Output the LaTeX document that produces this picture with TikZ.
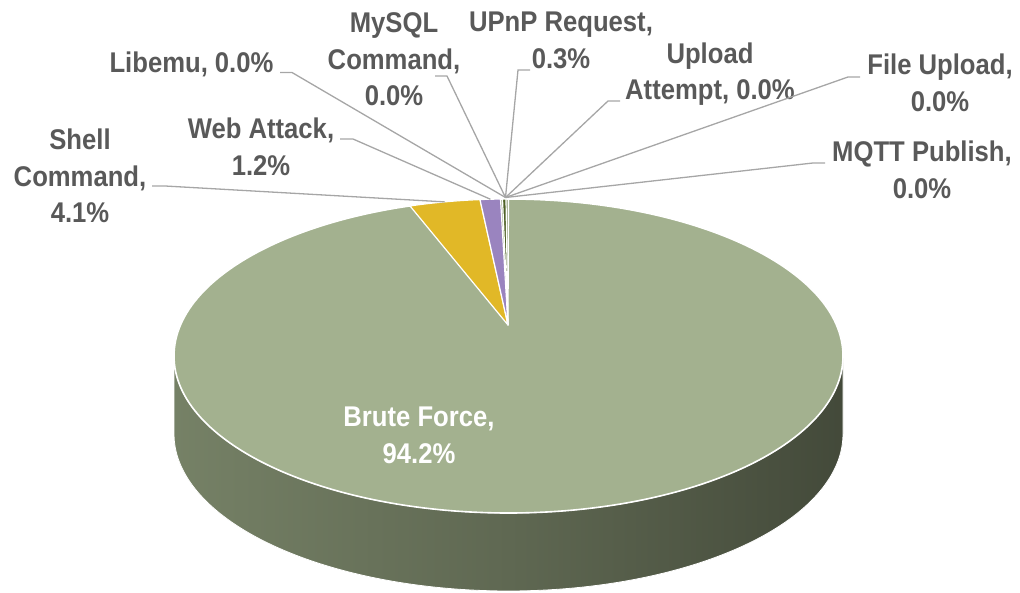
\documentclass[tikz,border=0pt]{standalone}
\usepackage{fontspec}
\setmainfont{Liberation Sans}[FakeStretch=0.9]
\usetikzlibrary{calc}

\definecolor{bfTop}{HTML}{A3B18F}
\definecolor{sideA}{HTML}{8C9A7A}
\definecolor{sideB}{HTML}{5F6852}
\definecolor{sideC}{HTML}{404637}
\definecolor{shellY}{HTML}{E1B827}
\definecolor{webP}{HTML}{9A84BF}
\definecolor{upnpG}{HTML}{4F6228}
\definecolor{labelGray}{HTML}{595959}
\definecolor{leaderGray}{HTML}{A6A6A6}

\pgfdeclarehorizontalshading{pieside}{100bp}{color(0bp)=(sideA); color(50bp)=(sideB); color(78bp)=(sideC); color(100bp)=(sideC)}

\newcommand\stack[1]{\begin{tabular}[t]{@{}c@{}}#1\end{tabular}}

\begin{document}
\begin{tikzpicture}[x=1pt,y=-1pt,
  declare function={rx(\t)=508.5+334.5*cos(\t); ry(\t)=356-157*sin(\t); by(\t)=434-157*sin(\t);},
  lbl/.style={inner sep=0pt, anchor=base, text=labelGray,
              font=\fontsize{28.5}{36.5}\selectfont\bfseries},
  leader/.style={draw=leaderGray, line width=1.3pt},
  slice/.style={draw=white, line width=1.2pt, line join=round}]
\useasboundingbox (0,0) rectangle (1020,593);

% side wall of the pie
\shade[shading=pieside, draw=white, line width=0.8pt]
  (174,356) -- (174,434)
  -- plot[smooth, samples=80, domain=180:360] ({rx(\x)},{by(\x)})
  -- (843,356)
  -- plot[smooth, samples=80, domain=0:-180] ({rx(\x)},{ry(\x)}) -- cycle;

% top face (Brute Force)
\draw[slice, fill=bfTop, line width=1.6pt] (508.5,356) ellipse [x radius=334.5, y radius=157];

% small slices at the back
\coordinate (apex) at (508,325);
\fill[shellY, slice] (apex) -- plot[samples=20, domain=94.89:107.13] ({rx(\x)},{ry(\x)}) -- cycle;
\fill[webP, slice] (apex) -- plot[samples=10, domain=91.37:94.89] ({rx(\x)},{ry(\x)}) -- cycle;
\fill[upnpG, slice] (apex) -- plot[samples=5, domain=90.43:91.03] ({rx(\x)},{ry(\x)}) -- cycle;
\coordinate (top) at ({rx(90)},{ry(90)});
\draw[slice] (apex) -- (top);

% rim points where the leaders end
\coordinate (r-shell) at ({rx(101)},{ry(101)});
\coordinate (r-web) at ({rx(93.1)},{ry(93.1)});
\coordinate (r-back) at (505.5,197.5);

% labels
\node[lbl] (shell) at (80,150) {\stack{Shell\\Command,\\4.1\%}};
\node[lbl] (web) at (261,139) {\stack{Web Attack,\\1.2\%}};
\node[lbl] (libemu) at (191.5,73) {Libemu, 0.0\%};
\node[lbl] (mysql) at (394,33) {\stack{MySQL\\Command,\\0.0\%}};
\node[lbl] (upnp) at (561,32) {\stack{UPnP Request,\\0.3\%}};
\node[lbl] (upload) at (710,63.5) {\stack{Upload\\Attempt, 0.0\%}};
\node[lbl] (file) at (940,75) {\stack{File Upload,\\0.0\%}};
\node[lbl] (mqtt) at (922,162) {\stack{MQTT Publish,\\0.0\%}};
\node[lbl, text=white] (brute) at (419,427) {\stack{Brute Force,\\94.2\%}};

% leader line starts beside the labels
\coordinate (l-shell) at (152,186);
\coordinate (l-web) at (340,139);
\coordinate (l-libemu) at (280,72.5);
\coordinate (l-mysql) at (435,76);
\coordinate (l-upnp) at (530,70);
\coordinate (l-upload) at (620,101);
\coordinate (l-file) at (860,77);
\coordinate (l-mqtt) at (825,163);

% leader lines
\draw[leader] (l-shell) -- ++(13,0) -- (r-shell);
\draw[leader] (l-web) -- ++(13,0) -- (r-web);
\draw[leader] (l-libemu) -- ++(12,0) -- (r-back);
\draw[leader] (l-mysql) -- ++(12,0) -- (r-back);
\draw[leader] (l-upnp) -- ++(-12,0) -- (r-back);
\draw[leader] (l-upload) -- ++(-12,0) -- (r-back);
\draw[leader] (l-file) -- ++(-12,0) -- (r-back);
\draw[leader] (l-mqtt) -- ++(-12,0) -- (r-back);
\end{tikzpicture}
\end{document}
